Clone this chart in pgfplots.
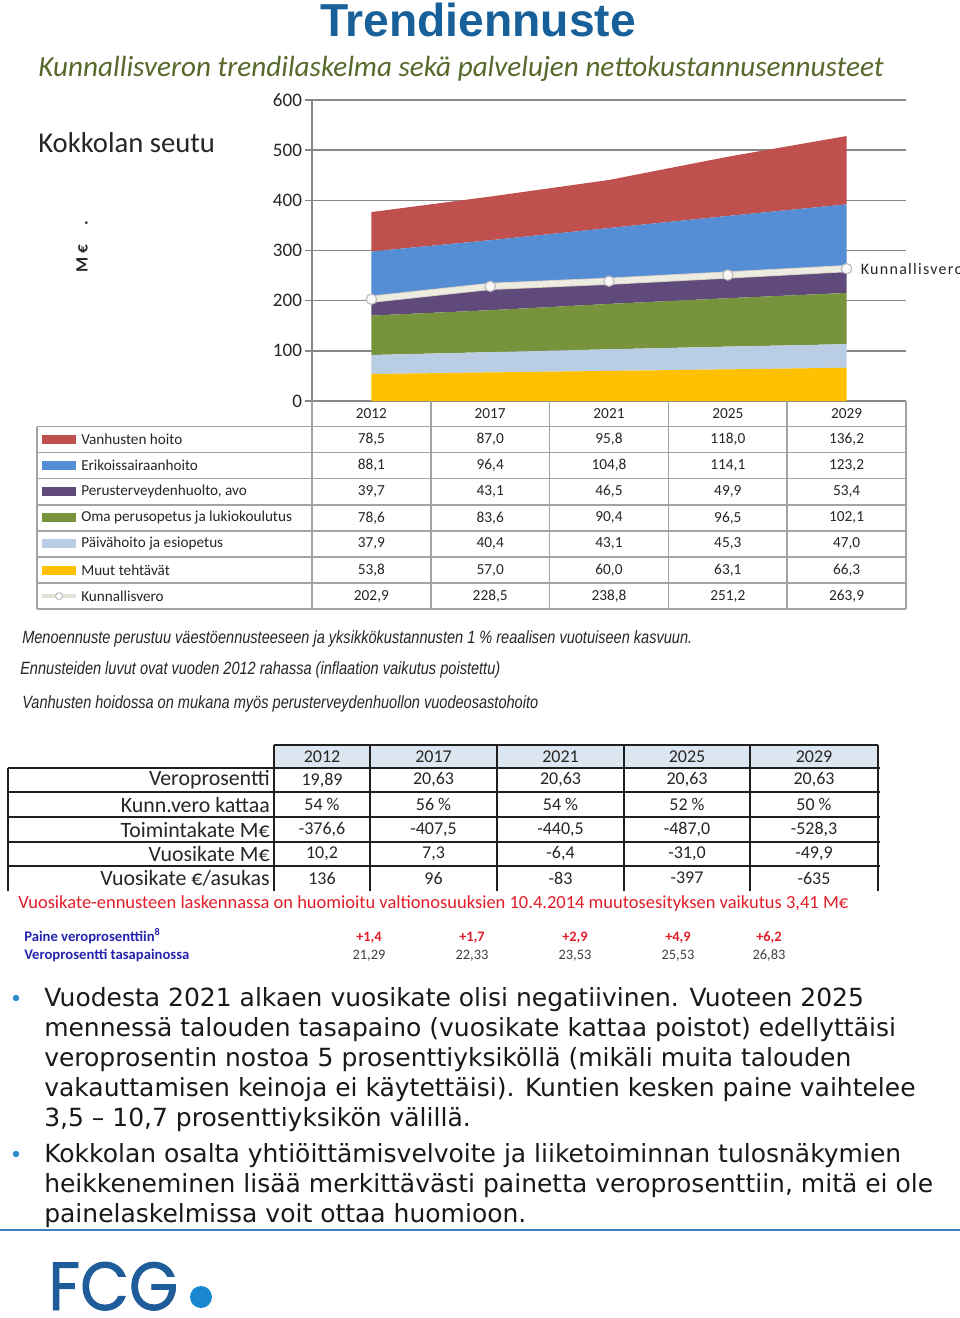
\documentclass[border=0pt]{standalone}
\usepackage{fontspec}
\usepackage{pgfplots}
\usepackage{pgfplotstable}
\usepackage{graphicx}
\pgfplotsset{compat=1.18}
\setmainfont{Carlito}
\newfontfamily\verd{DejaVu Sans}
\newfontfamily\arial{Liberation Sans}
\newfontfamily\narrow[FakeStretch=0.82]{Liberation Sans}
\newfontfamily\logofont[FakeBold=1.2]{Poppins}
\newfontfamily\carlsp[LetterSpace=8]{Carlito}

\definecolor{titleblue}{HTML}{17609A}
\definecolor{subolive}{HTML}{56682A}
\definecolor{txt}{HTML}{262626}
\definecolor{axgray}{HTML}{878787}
\definecolor{tblgray}{HTML}{A3A3A3}
\definecolor{cvanh}{HTML}{C0504D}
\definecolor{cerik}{HTML}{558ED5}
\definecolor{cperus}{HTML}{604A7B}
\definecolor{coma}{HTML}{77933C}
\definecolor{cpaiva}{HTML}{B9CDE5}
\definecolor{cmuut}{HTML}{FFC000}
\definecolor{ckv}{HTML}{EEECE1}
\definecolor{ckvedge}{HTML}{CFCCC2}
\definecolor{hdrblue}{HTML}{DCE6F1}
\definecolor{redtxt}{HTML}{E31E2A}
\definecolor{navytxt}{HTML}{2424B0}
\definecolor{rulblue}{HTML}{3A7EBF}
\definecolor{fcgblue}{HTML}{1F5C9A}
\definecolor{fcgdot}{HTML}{1A87D0}
\definecolor{bullblue}{HTML}{2E8BC9}

\pgfplotstableread{
x year muut paiva oma perus erik vanh kv
0 2012 53.8 37.9 78.6 39.7 88.1 78.5 202.9
1 2017 57.0 40.4 83.6 43.1 96.4 87.0 228.5
2 2021 60.0 43.1 90.4 46.5 104.8 95.8 238.8
3 2025 63.1 45.3 96.5 49.9 114.1 118.0 251.2
4 2029 66.3 47.0 102.1 53.4 123.2 136.2 263.9
}\data

\pgfplotsset{chartbase/.style={
  at={(O)}, anchor=south west,
  width=445.5pt, height=225.75pt, scale only axis,
  xmin=-0.5, xmax=4.5, ymin=0, ymax=600, clip=false}}

\begin{document}
\begin{tikzpicture}[x=0.75pt,y=-0.75pt]
\useasboundingbox (0,0) rectangle (960,1318);
\clip (0,0) rectangle (960,1318);
\fill[white] (0,0) rectangle (960,1318);

% ---------- titles
\node[anchor=base, inner sep=0, text=titleblue] at (478,36)
  {\resizebox{237pt}{!}{\arial\bfseries\fontsize{32}{36}\selectfont Trendiennuste}};
\node[anchor=base west, inner sep=0, text=subolive] at (38,76)
  {\resizebox{634pt}{!}{\itshape\fontsize{21}{24}\selectfont Kunnallisveron trendilaskelma sekä palvelujen nettokustannusennusteet}};
\node[anchor=base west, inner sep=0, text=txt, font=\fontsize{21.5}{24}\selectfont] at (38,152) {Kokkolan seutu};
\node[anchor=base west, inner sep=0, rotate=90, text=txt, font=\bfseries\fontsize{13}{15}\selectfont] at (87.5,273) {M €};
\node[anchor=base, inner sep=0, rotate=90, text=txt, font=\bfseries\fontsize{13}{15}\selectfont] at (87.5,223) {.};

\coordinate (O) at (312,401);

% ---------- chart
\begin{scope}[x=1cm,y=1cm]
\begin{axis}[chartbase,
  axis x line*=bottom, axis y line*=left,
  axis line style={draw=axgray, line width=1.1pt, -},
  xtick=\empty,
  ytick={0,100,...,600},
  ymajorgrids, grid style={draw=axgray, line width=1.1pt},
  tick align=outside, major tick length=5.5pt,
  ytick style={draw=axgray, line width=1.1pt},
  yticklabel style={font=\fontsize{14.3}{16}\selectfont, text=txt, xshift=1.5pt},
  /pgf/number format/assume math mode=true,
  stack plots=y]
\addplot[fill=cmuut, draw=none] table[x=x,y=muut]{\data} \closedcycle;
\addplot[fill=cpaiva, draw=none] table[x=x,y=paiva]{\data} \closedcycle;
\addplot[fill=coma, draw=none] table[x=x,y=oma]{\data} \closedcycle;
\addplot[fill=cperus, draw=none] table[x=x,y=perus]{\data} \closedcycle;
\addplot[fill=cerik, draw=none] table[x=x,y=erik]{\data} \closedcycle;
\addplot[fill=cvanh, draw=none] table[x=x,y=vanh]{\data} \closedcycle;
\end{axis}
\begin{axis}[chartbase, hide axis]
\addplot[ckvedge, line width=5.4pt, mark=none] table[x=x,y=kv]{\data};
\addplot[ckv, line width=4.2pt, mark=*, mark size=3.9pt,
  mark options={fill=white!95!gray, draw=gray!55, line width=0.8pt}] table[x=x,y=kv]{\data};
\node[anchor=west, inner sep=0, xshift=10.5pt, text=txt, font=\carlsp\fontsize{12}{14}\selectfont] at (axis cs:4,263.9) {Kunnallisvero};
\end{axis}
\end{scope}

% ---------- data table under chart
\foreach \yy in {426.5,452.6,478.7,504.8,530.9,557,583.1,609.2}
  \draw[tblgray, line width=1.1pt] (37,\yy) -- (906,\yy);
\foreach \xx in {312,430.8,549.6,668.4,787.2,906}
  \draw[tblgray, line width=1.1pt] (\xx,401) -- (\xx,609.2);
\draw[tblgray, line width=1.1pt] (37,426.5) -- (37,609.2);
\foreach \yr [count=\i from 0] in {2012,2017,2021,2025,2029}
  \node[text=txt, font=\fontsize{11.5}{13}\selectfont] at (371.4+118.8*\i,414) {\yr};
\foreach \lab/\col/\key [count=\r from 0] in {Vanhusten hoito/cvanh/vanh, Erikoissairaanhoito/cerik/erik, {Perusterveydenhuolto, avo}/cperus/perus, Oma perusopetus ja lukiokoulutus/coma/oma, Päivähoito ja esiopetus/cpaiva/paiva, Muut tehtävät/cmuut/muut, Kunnallisvero/ckv/kv}{
  \pgfmathsetmacro\yc{439.55+26.1*\r}
  \node[anchor=west, inner sep=0, text=txt, font=\fontsize{11.4}{13}\selectfont] at (81,\yc) {\lab};
  \ifnum\r<6
    \fill[\col] (42,\yc-4.5) rectangle (76,\yc+4.5);
  \else
    \draw[ckv!90!gray, line width=3pt] (42,\yc) -- (76,\yc);
    \draw[fill=white, draw=gray!60, line width=0.6pt] (59,\yc) circle (2.6pt);
  \fi
  \foreach \i in {0,...,4}{
    \pgfplotstablegetelem{\i}{\key}\of\data
    \node[text=txt, font=\fontsize{11.5}{13}\selectfont] at (371.4+118.8*\i,\yc)
      {\pgfmathprintnumber[fixed,fixed zerofill,precision=1,use comma,assume math mode=true]{\pgfplotsretval}};
  }
}

% ---------- notes
\node[anchor=base west, inner sep=0, text=txt] at (22,643)
  {\resizebox{502.5pt}{!}{\narrow\itshape\fontsize{11.5}{13}\selectfont Menoennuste perustuu väestöennusteeseen ja yksikkökustannusten 1 \% reaalisen vuotuiseen kasvuun.}};
\node[anchor=base west, inner sep=0, text=txt] at (20,674)
  {\resizebox{360pt}{!}{\narrow\itshape\fontsize{11.5}{13}\selectfont Ennusteiden luvut ovat vuoden 2012 rahassa (inflaation vaikutus poistettu)}};
\node[anchor=base west, inner sep=0, text=txt] at (22,708)
  {\resizebox{387pt}{!}{\narrow\itshape\fontsize{11.5}{13}\selectfont Vanhusten hoidossa on mukana myös perusterveydenhuollon vuodeosastohoito}};

% ---------- lower table
\fill[hdrblue] (274,745) rectangle (878,768);
\draw[black!88, line width=1.5pt] (274,745) -- (878,745);
\foreach \yy in {768,792,817,842,866}
  \draw[black!88, line width=1.5pt] (8,\yy) -- (880,\yy);
\foreach \xx in {274,370,497,624,750,878}
  \draw[black!88, line width=1.5pt] (\xx,745) -- (\xx,891);
\draw[black!88, line width=1.5pt] (8,768) -- (8,891);
\foreach \yr/\cx in {2012/322,2017/433.5,2021/560.5,2025/687,2029/814}
  \node[text=txt, font=\fontsize{13.5}{15}\selectfont] at (\cx,756.5) {\yr};
\foreach \lab/\cy in {Veroprosentti/780, Kunn.vero kattaa/804.5, Toimintakate M€/829.5, Vuosikate M€/854, {Vuosikate €{/}asukas}/878}
  \node[anchor=east, inner sep=0, text=txt, font=\fontsize{16.4}{18}\selectfont] at (270,\cy) {\lab};
\foreach \a/\b/\c/\d/\e/\cy in {
   {19,89}/{20,63}/{20,63}/{20,63}/{20,63}/780,
   54 \%/56 \%/54 \%/52 \%/50 \%/804.5,
   {-376,6}/{-407,5}/{-440,5}/{-487,0}/{-528,3}/829.5,
   {10,2}/{7,3}/{-6,4}/{-31,0}/{-49,9}/854,
   136/96/-83/-397/-635/878}{
  \node[text=txt, font=\fontsize{13.5}{15}\selectfont] at (322,\cy) {\a};
  \node[text=txt, font=\fontsize{13.5}{15}\selectfont] at (433.5,\cy) {\b};
  \node[text=txt, font=\fontsize{13.5}{15}\selectfont] at (560.5,\cy) {\c};
  \node[text=txt, font=\fontsize{13.5}{15}\selectfont] at (687,\cy) {\d};
  \node[text=txt, font=\fontsize{13.5}{15}\selectfont] at (814,\cy) {\e};
}

\node[anchor=base west, inner sep=0, text=redtxt] at (18,908)
  {\resizebox{622.5pt}{!}{\fontsize{12.75}{14}\selectfont Vuosikate-ennusteen laskennassa on huomioitu valtionosuuksien 10.4.2014 muutosesityksen vaikutus 3,41 M€}};
\node[anchor=base west, inner sep=0, text=navytxt, font=\bfseries\fontsize{11}{12}\selectfont] at (24,941) {Paine veroprosenttiin\textsuperscript{8}};
\node[anchor=base west, inner sep=0, text=navytxt, font=\bfseries\fontsize{11}{12}\selectfont] at (24,959) {Veroprosentti tasapainossa};
\foreach \p/\cx in {{+1,4}/369,{+1,7}/472,{+2,9}/575,{+4,9}/678,{+6,2}/769}
  \node[anchor=base, inner sep=0, text=redtxt, font=\bfseries\fontsize{10.8}{12}\selectfont] at (\cx,941) {\p};
\foreach \v/\cx in {{21,29}/369,{22,33}/472,{23,53}/575,{25,53}/678,{26,83}/769}
  \node[anchor=base, inner sep=0, text=black!75, font=\fontsize{10.8}{12}\selectfont] at (\cx,959) {\v};

% ---------- bullets
\fill[bullblue] (16,998) circle (2.4pt);
\fill[bullblue] (16,1154) circle (2.4pt);
\foreach \t/\by in {
  {Vuodesta 2021 alkaen vuosikate olisi negatiivinen. Vuoteen 2025}/1006,
  {mennessä talouden tasapaino (vuosikate kattaa poistot) edellyttäisi}/1036,
  {veroprosentin nostoa 5 prosenttiyksiköllä (mikäli muita talouden}/1066,
  {vakauttamisen keinoja ei käytettäisi). Kuntien kesken paine vaihtelee}/1096,
  {3,5 – 10,7 prosenttiyksikön välillä.}/1126,
  {Kokkolan osalta yhtiöittämisvelvoite ja liiketoiminnan tulosnäkymien}/1162,
  {heikkeneminen lisää merkittävästi painetta veroprosenttiin, mitä ei ole}/1192,
  {painelaskelmissa voit ottaa huomioon.}/1222}
  \node[anchor=base west, inner sep=0, text=black!90, font=\verd\fontsize{18.75}{22}\selectfont] at (44,\by) {\t};

% ---------- footer
\draw[rulblue, line width=1.9pt] (0,1230) -- (960,1230);
\node[anchor=base west, inner sep=0, text=fcgblue] at (48,1310) {\resizebox{97.5pt}{36pt}{\logofont FCG}};
\fill[fcgdot] (201,1297) circle (8.25pt);
\end{tikzpicture}
\end{document}
